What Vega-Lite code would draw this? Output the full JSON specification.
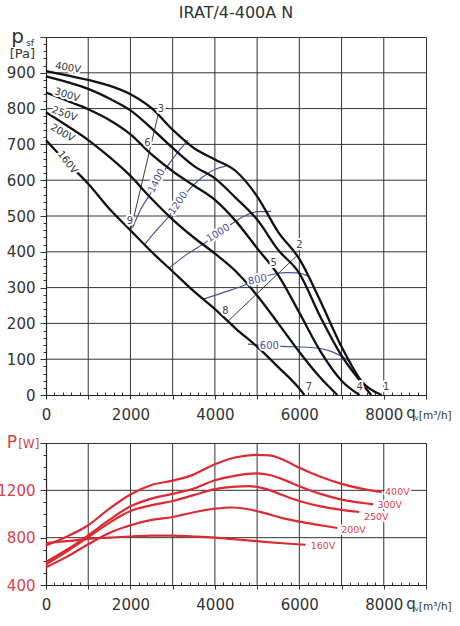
{
  "$schema": "https://vega.github.io/schema/vega-lite/v6.json",
  "background": "white",
  "padding": {"left": -4, "top": 4, "right": 0, "bottom": 0},
  "spacing": 48,
  "bounds": "flush",
  "config": {
    "font": "DejaVu Sans",
    "view": {"stroke": "#333", "strokeWidth": 1},
    "axis": {
      "labelFontSize": 15,
      "labelColor": "#333",
      "labelFlush": false,
      "labelOverlap": false,
      "labelBound": false,
      "grid": false,
      "tickColor": "#333",
      "tickWidth": 1,
      "domainColor": "#222",
      "domainWidth": 1.2,
      "title": null
    },
    "text": {"font": "DejaVu Sans"}
  },
  "datasets": {
    "fan": [
      {"curve": "400V", "q": 0, "p": 905}, {"curve": "400V", "q": 500, "p": 893}, {"curve": "400V", "q": 1000, "p": 880},
      {"curve": "400V", "q": 1500, "p": 864}, {"curve": "400V", "q": 2000, "p": 840}, {"curve": "400V", "q": 2500, "p": 801},
      {"curve": "400V", "q": 3000, "p": 741}, {"curve": "400V", "q": 3500, "p": 690}, {"curve": "400V", "q": 4000, "p": 658},
      {"curve": "400V", "q": 4500, "p": 625}, {"curve": "400V", "q": 5000, "p": 555}, {"curve": "400V", "q": 5500, "p": 455},
      {"curve": "400V", "q": 6000, "p": 380}, {"curve": "400V", "q": 6500, "p": 262}, {"curve": "400V", "q": 7000, "p": 135},
      {"curve": "400V", "q": 7500, "p": 35}, {"curve": "400V", "q": 7950, "p": 0},
      {"curve": "300V", "q": 0, "p": 890}, {"curve": "300V", "q": 500, "p": 874}, {"curve": "300V", "q": 1000, "p": 855},
      {"curve": "300V", "q": 1500, "p": 828}, {"curve": "300V", "q": 2000, "p": 795}, {"curve": "300V", "q": 2500, "p": 745},
      {"curve": "300V", "q": 3000, "p": 690}, {"curve": "300V", "q": 3500, "p": 640}, {"curve": "300V", "q": 4000, "p": 605},
      {"curve": "300V", "q": 4500, "p": 550}, {"curve": "300V", "q": 5000, "p": 490}, {"curve": "300V", "q": 5500, "p": 405},
      {"curve": "300V", "q": 6000, "p": 340}, {"curve": "300V", "q": 6500, "p": 218}, {"curve": "300V", "q": 7000, "p": 110},
      {"curve": "300V", "q": 7500, "p": 30}, {"curve": "300V", "q": 7700, "p": 0},
      {"curve": "250V", "q": 0, "p": 845}, {"curve": "250V", "q": 500, "p": 822}, {"curve": "250V", "q": 1000, "p": 798},
      {"curve": "250V", "q": 1500, "p": 768}, {"curve": "250V", "q": 2000, "p": 728}, {"curve": "250V", "q": 2500, "p": 672},
      {"curve": "250V", "q": 3000, "p": 625}, {"curve": "250V", "q": 3500, "p": 585}, {"curve": "250V", "q": 4000, "p": 545},
      {"curve": "250V", "q": 4500, "p": 485}, {"curve": "250V", "q": 5000, "p": 410}, {"curve": "250V", "q": 5500, "p": 335},
      {"curve": "250V", "q": 6000, "p": 230}, {"curve": "250V", "q": 6500, "p": 122}, {"curve": "250V", "q": 7000, "p": 40},
      {"curve": "250V", "q": 7425, "p": 0},
      {"curve": "200V", "q": 0, "p": 790}, {"curve": "200V", "q": 500, "p": 752}, {"curve": "200V", "q": 1000, "p": 712},
      {"curve": "200V", "q": 1500, "p": 665}, {"curve": "200V", "q": 2000, "p": 612}, {"curve": "200V", "q": 2500, "p": 548},
      {"curve": "200V", "q": 3000, "p": 490}, {"curve": "200V", "q": 3500, "p": 440}, {"curve": "200V", "q": 4000, "p": 395},
      {"curve": "200V", "q": 4500, "p": 345}, {"curve": "200V", "q": 5000, "p": 278}, {"curve": "200V", "q": 5500, "p": 200},
      {"curve": "200V", "q": 6000, "p": 120}, {"curve": "200V", "q": 6500, "p": 48}, {"curve": "200V", "q": 6900, "p": 0},
      {"curve": "160V", "q": 0, "p": 712}, {"curve": "160V", "q": 250, "p": 680}, {"curve": "160V", "q": 500, "p": 650},
      {"curve": "160V", "q": 1000, "p": 590}, {"curve": "160V", "q": 1500, "p": 520}, {"curve": "160V", "q": 2000, "p": 460},
      {"curve": "160V", "q": 2500, "p": 400}, {"curve": "160V", "q": 3000, "p": 345}, {"curve": "160V", "q": 3500, "p": 290},
      {"curve": "160V", "q": 4000, "p": 240}, {"curve": "160V", "q": 4500, "p": 185}, {"curve": "160V", "q": 5000, "p": 135},
      {"curve": "160V", "q": 5500, "p": 78}, {"curve": "160V", "q": 6000, "p": 18}, {"curve": "160V", "q": 6120, "p": 0}
    ],
    "sys": [
      {"line": "9-3", "q": 2010, "p": 462}, {"line": "9-3", "q": 2660, "p": 785},
      {"line": "8-2", "q": 4300, "p": 205}, {"line": "8-2", "q": 5950, "p": 390}
    ],
    "iso": [
      {"w": "1400", "q": 2050, "p": 467}, {"w": "1400", "q": 2250, "p": 520}, {"w": "1400", "q": 2490, "p": 565},
      {"w": "1400", "q": 2880, "p": 640}, {"w": "1400", "q": 3360, "p": 712},
      {"w": "1200", "q": 2330, "p": 420}, {"w": "1200", "q": 2650, "p": 465}, {"w": "1200", "q": 2920, "p": 500},
      {"w": "1200", "q": 3120, "p": 535}, {"w": "1200", "q": 3400, "p": 575}, {"w": "1200", "q": 3700, "p": 608},
      {"w": "1200", "q": 4000, "p": 630}, {"w": "1200", "q": 4270, "p": 640},
      {"w": "1000", "q": 2920, "p": 355}, {"w": "1000", "q": 3300, "p": 390}, {"w": "1000", "q": 3830, "p": 430},
      {"w": "1000", "q": 4300, "p": 470}, {"w": "1000", "q": 4700, "p": 500}, {"w": "1000", "q": 5000, "p": 512},
      {"w": "1000", "q": 5330, "p": 513},
      {"w": "800", "q": 3710, "p": 267}, {"w": "800", "q": 4300, "p": 290}, {"w": "800", "q": 4780, "p": 310},
      {"w": "800", "q": 5330, "p": 336}, {"w": "800", "q": 5700, "p": 342}, {"w": "800", "q": 5960, "p": 341},
      {"w": "800", "q": 6240, "p": 330},
      {"w": "600", "q": 4780, "p": 142}, {"w": "600", "q": 5600, "p": 136}, {"w": "600", "q": 6350, "p": 132},
      {"w": "600", "q": 6750, "p": 122}, {"w": "600", "q": 7000, "p": 108}, {"w": "600", "q": 7230, "p": 90}
    ],
    "fanlab": [
      {"t": "400V", "q": 520, "p": 914}, {"t": "300V", "q": 500, "p": 838}, {"t": "250V", "q": 440, "p": 785},
      {"t": "200V", "q": 390, "p": 732}, {"t": "160V", "q": 510, "p": 650}
    ],
    "isolab": [
      {"t": "1400", "q": 2620, "p": 598}, {"t": "1200", "q": 3130, "p": 536}, {"t": "1000", "q": 4080, "p": 452},
      {"t": "800", "q": 5010, "p": 322}, {"t": "600", "q": 5290, "p": 138}
    ],
    "ptlab": [
      {"t": "1", "q": 8060, "p": 22}, {"t": "2", "q": 6000, "p": 418}, {"t": "3", "q": 2720, "p": 800},
      {"t": "4", "q": 7430, "p": 22}, {"t": "5", "q": 5390, "p": 368}, {"t": "6", "q": 2400, "p": 705},
      {"t": "7", "q": 6230, "p": 22}, {"t": "8", "q": 4250, "p": 236}, {"t": "9", "q": 1990, "p": 486}
    ],
    "gridq": [
      {"q": 1000}, {"q": 2000}, {"q": 3000}, {"q": 4000}, {"q": 5000}, {"q": 6000}, {"q": 7000}, {"q": 8000}
    ],
    "gridp": [
      {"p": 100}, {"p": 200}, {"p": 300}, {"p": 400}, {"p": 500}, {"p": 600}, {"p": 700}, {"p": 800}, {"p": 900}
    ],
    "gridw": [
      {"p": 800}, {"p": 1200}
    ],
    "power": [
      {"curve": "400V", "q": 0, "p": 735}, {"curve": "400V", "q": 500, "p": 810}, {"curve": "400V", "q": 1000, "p": 905},
      {"curve": "400V", "q": 1500, "p": 1045}, {"curve": "400V", "q": 2000, "p": 1165}, {"curve": "400V", "q": 2500, "p": 1245},
      {"curve": "400V", "q": 3000, "p": 1282}, {"curve": "400V", "q": 3400, "p": 1320}, {"curve": "400V", "q": 4000, "p": 1420},
      {"curve": "400V", "q": 4500, "p": 1480}, {"curve": "400V", "q": 5000, "p": 1500}, {"curve": "400V", "q": 5300, "p": 1495},
      {"curve": "400V", "q": 5700, "p": 1445}, {"curve": "400V", "q": 6000, "p": 1390}, {"curve": "400V", "q": 6500, "p": 1315},
      {"curve": "400V", "q": 7000, "p": 1255}, {"curve": "400V", "q": 7500, "p": 1212}, {"curve": "400V", "q": 7950, "p": 1185},
      {"curve": "300V", "q": 0, "p": 594}, {"curve": "300V", "q": 500, "p": 700}, {"curve": "300V", "q": 1000, "p": 820},
      {"curve": "300V", "q": 1500, "p": 950}, {"curve": "300V", "q": 2000, "p": 1065}, {"curve": "300V", "q": 2500, "p": 1130},
      {"curve": "300V", "q": 3000, "p": 1170}, {"curve": "300V", "q": 3500, "p": 1215}, {"curve": "300V", "q": 4000, "p": 1285},
      {"curve": "300V", "q": 4500, "p": 1325}, {"curve": "300V", "q": 5000, "p": 1343}, {"curve": "300V", "q": 5300, "p": 1330},
      {"curve": "300V", "q": 5700, "p": 1280}, {"curve": "300V", "q": 6000, "p": 1235}, {"curve": "300V", "q": 6500, "p": 1170},
      {"curve": "300V", "q": 7000, "p": 1122}, {"curve": "300V", "q": 7500, "p": 1093}, {"curve": "300V", "q": 7750, "p": 1082},
      {"curve": "250V", "q": 0, "p": 575}, {"curve": "250V", "q": 500, "p": 685}, {"curve": "250V", "q": 1000, "p": 805},
      {"curve": "250V", "q": 1500, "p": 925}, {"curve": "250V", "q": 2000, "p": 1025}, {"curve": "250V", "q": 2500, "p": 1075},
      {"curve": "250V", "q": 3000, "p": 1110}, {"curve": "250V", "q": 3500, "p": 1160}, {"curve": "250V", "q": 4000, "p": 1210},
      {"curve": "250V", "q": 4500, "p": 1232}, {"curve": "250V", "q": 4800, "p": 1236}, {"curve": "250V", "q": 5200, "p": 1212},
      {"curve": "250V", "q": 5600, "p": 1160}, {"curve": "250V", "q": 6000, "p": 1110}, {"curve": "250V", "q": 6500, "p": 1065},
      {"curve": "250V", "q": 7000, "p": 1035}, {"curve": "250V", "q": 7420, "p": 1017},
      {"curve": "200V", "q": 0, "p": 550}, {"curve": "200V", "q": 500, "p": 640}, {"curve": "200V", "q": 1000, "p": 745},
      {"curve": "200V", "q": 1500, "p": 840}, {"curve": "200V", "q": 2000, "p": 905}, {"curve": "200V", "q": 2500, "p": 950},
      {"curve": "200V", "q": 3000, "p": 975}, {"curve": "200V", "q": 3500, "p": 1015}, {"curve": "200V", "q": 4000, "p": 1045},
      {"curve": "200V", "q": 4400, "p": 1055}, {"curve": "200V", "q": 4800, "p": 1040}, {"curve": "200V", "q": 5200, "p": 1005},
      {"curve": "200V", "q": 5600, "p": 965}, {"curve": "200V", "q": 6000, "p": 935}, {"curve": "200V", "q": 6500, "p": 905},
      {"curve": "200V", "q": 6900, "p": 882},
      {"curve": "160V", "q": 0, "p": 755}, {"curve": "160V", "q": 500, "p": 770}, {"curve": "160V", "q": 1000, "p": 790},
      {"curve": "160V", "q": 1500, "p": 800}, {"curve": "160V", "q": 2000, "p": 810}, {"curve": "160V", "q": 2500, "p": 818},
      {"curve": "160V", "q": 3000, "p": 818}, {"curve": "160V", "q": 3500, "p": 810}, {"curve": "160V", "q": 4000, "p": 800},
      {"curve": "160V", "q": 4500, "p": 785}, {"curve": "160V", "q": 5000, "p": 770}, {"curve": "160V", "q": 5500, "p": 755},
      {"curve": "160V", "q": 6150, "p": 740}
    ],
    "powlab": [
      {"t": "400V", "q": 8030, "p": 1186}, {"t": "300V", "q": 7850, "p": 1076}, {"t": "250V", "q": 7530, "p": 975},
      {"t": "200V", "q": 6990, "p": 868}, {"t": "160V", "q": 6270, "p": 727}
    ]
  },
  "vconcat": [
    {
      "width": 380,
      "height": 358,
      "title": {"text": "IRAT/4-400A N", "frame": "group", "anchor": "middle", "fontSize": 16, "fontWeight": "normal", "color": "#333", "offset": 6},
      "resolve": {"axis": {"x": "independent", "y": "independent"}},
      "layer": [
        {
          "data": {"name": "gridq"},
          "mark": {"type": "rule", "color": "#333", "strokeWidth": 1},
          "encoding": {
            "x": {"field": "q", "type": "quantitative", "scale": {"domain": [0, 9000], "nice": false, "zero": false}, "axis": null}
          }
        },
        {
          "data": {"name": "gridp"},
          "mark": {"type": "rule", "color": "#333", "strokeWidth": 1},
          "encoding": {
            "y": {"field": "p", "type": "quantitative", "scale": {"domain": [0, 1000], "nice": false, "zero": false}, "axis": null}
          }
        },
        {
          "data": {"name": "iso"},
          "mark": {"type": "line", "color": "#4b52a0", "strokeWidth": 1.2, "interpolate": "monotone"},
          "encoding": {
            "detail": {"field": "w"},
            "x": {
              "field": "q", "type": "quantitative",
              "scale": {"domain": [0, 9000], "nice": false, "zero": false},
              "axis": {
                "orient": "bottom", "offset": -3, "tickSize": 3, "labels": false, "domain": false, "grid": false,
                "values": [200,400,600,800,1200,1400,1600,1800,2200,2400,2600,2800,3200,3400,3600,3800,4200,4400,4600,4800,5200,5400,5600,5800,6200,6400,6600,6800,7200,7400,7600,7800,8200,8400,8600,8800]
              }
            },
            "y": {
              "field": "p", "type": "quantitative",
              "scale": {"domain": [0, 1000], "nice": false, "zero": false},
              "axis": {
                "orient": "left", "tickSize": 3, "labels": false, "domain": false, "grid": false,
                "values": [20,40,60,80,120,140,160,180,220,240,260,280,320,340,360,380,420,440,460,480,520,540,560,580,620,640,660,680,720,740,760,780,820,840,860,880,920,940,960,980]
              }
            }
          }
        },
        {
          "encoding": {
            "x": {
              "field": "q", "type": "quantitative",
              "scale": {"domain": [0, 9000], "nice": false, "zero": false},
              "axis": {
                "orient": "bottom",
                "values": [0,1000,2000,3000,4000,5000,6000,7000,8000,9000],
                "format": "d",
                "labelExpr": "datum.value % 2000 === 0 ? datum.label : ''",
                "labelPadding": 8,
                "tickSize": 4
              }
            },
            "y": {
              "field": "p", "type": "quantitative",
              "scale": {"domain": [0, 1000], "nice": false, "zero": false},
              "axis": {
                "orient": "left",
                "values": [0,100,200,300,400,500,600,700,800,900,1000],
                "format": "d",
                "labelExpr": "datum.value < 1000 ? datum.label : ''",
                "labelPadding": 5,
                "labelBaseline": "middle",
                "tickSize": 6
              }
            }
          },
          "layer": [
            {
              "data": {"name": "sys"},
              "mark": {"type": "line", "color": "#222", "strokeWidth": 0.9},
              "encoding": {"detail": {"field": "line"}}
            },
            {
              "data": {"name": "fan"},
              "mark": {"type": "line", "color": "#111", "strokeWidth": 2.3, "interpolate": "monotone"},
              "encoding": {"detail": {"field": "curve"}}
            },
            {
              "data": {"name": "isolab"},
              "mark": {"type": "text", "fontSize": 10, "fill": "white", "stroke": "white", "strokeWidth": 4, "strokeJoin": "round",
                       "angle": {"expr": "[-63,-55,-32,-12,0][indexof(['1400','1200','1000','800','600'], datum.t)]"}},
              "encoding": {"text": {"field": "t"}}
            },
            {
              "data": {"name": "isolab"},
              "mark": {"type": "text", "fontSize": 10, "color": "#4b52a0",
                       "angle": {"expr": "[-63,-55,-32,-12,0][indexof(['1400','1200','1000','800','600'], datum.t)]"}},
              "encoding": {"text": {"field": "t"}}
            },
            {
              "data": {"name": "fanlab"},
              "mark": {"type": "text", "fontSize": 10, "fill": "white", "stroke": "white", "strokeWidth": 4, "strokeJoin": "round",
                       "angle": {"expr": "[10,17,20,30,52][indexof(['400V','300V','250V','200V','160V'], datum.t)]"}},
              "encoding": {"text": {"field": "t"}}
            },
            {
              "data": {"name": "fanlab"},
              "mark": {"type": "text", "fontSize": 10, "color": "#333",
                       "angle": {"expr": "[10,17,20,30,52][indexof(['400V','300V','250V','200V','160V'], datum.t)]"}},
              "encoding": {"text": {"field": "t"}}
            },
            {
              "data": {"name": "ptlab"},
              "mark": {"type": "text", "fontSize": 10, "fill": "white", "stroke": "white", "strokeWidth": 4, "strokeJoin": "round"},
              "encoding": {"text": {"field": "t"}}
            },
            {
              "data": {"name": "ptlab"},
              "mark": {"type": "text", "fontSize": 10, "color": "#444"},
              "encoding": {"text": {"field": "t"}}
            },
            {
              "data": {"values": [{"t": "p", "q": -675, "p": 982}]},
              "mark": {"type": "text", "fontSize": 20, "color": "#333", "baseline": "alphabetic", "align": "center"},
              "encoding": {"text": {"field": "t"}}
            },
            {
              "data": {"values": [{"t": "sf", "q": -470, "p": 975}]},
              "mark": {"type": "text", "fontSize": 9, "color": "#333", "baseline": "alphabetic", "align": "left"},
              "encoding": {"text": {"field": "t"}}
            },
            {
              "data": {"values": [{"t": "[Pa]", "q": -560, "p": 940}]},
              "mark": {"type": "text", "fontSize": 13, "color": "#333", "baseline": "alphabetic", "align": "center"},
              "encoding": {"text": {"field": "t"}}
            },
            {
              "data": {"values": [{"t": "q", "q": 8530, "p": -64}]},
              "mark": {"type": "text", "fontSize": 15, "color": "#333", "baseline": "alphabetic", "align": "left"},
              "encoding": {"text": {"field": "t"}}
            },
            {
              "data": {"values": [{"t": "v", "q": 8730, "p": -70}]},
              "mark": {"type": "text", "fontSize": 7, "color": "#333", "baseline": "alphabetic", "align": "left"},
              "encoding": {"text": {"field": "t"}}
            },
            {
              "data": {"values": [{"t": "[m³/h]", "q": 8830, "p": -66}]},
              "mark": {"type": "text", "fontSize": 10.5, "color": "#333", "baseline": "alphabetic", "align": "left"},
              "encoding": {"text": {"field": "t"}}
            }
          ]
        }
      ]
    },
    {
      "width": 380,
      "height": 142,
      "resolve": {"axis": {"x": "independent", "y": "independent"}},
      "layer": [
        {
          "data": {"name": "gridq"},
          "mark": {"type": "rule", "color": "#333", "strokeWidth": 1},
          "encoding": {
            "x": {"field": "q", "type": "quantitative", "scale": {"domain": [0, 9000], "nice": false, "zero": false}, "axis": null}
          }
        },
        {
          "data": {"name": "gridw"},
          "mark": {"type": "rule", "color": "#333", "strokeWidth": 1},
          "encoding": {
            "y": {"field": "p", "type": "quantitative", "scale": {"domain": [400, 1600], "nice": false, "zero": false}, "axis": null}
          }
        },
        {
          "data": {"name": "power"},
          "mark": {"type": "line", "color": "#dc2a33", "strokeWidth": 2.2, "interpolate": "monotone"},
          "encoding": {
            "detail": {"field": "curve"},
            "x": {
              "field": "q", "type": "quantitative",
              "scale": {"domain": [0, 9000], "nice": false, "zero": false},
              "axis": {
                "orient": "bottom", "offset": -3, "tickSize": 3, "labels": false, "domain": false, "grid": false,
                "values": [200,400,600,800,1200,1400,1600,1800,2200,2400,2600,2800,3200,3400,3600,3800,4200,4400,4600,4800,5200,5400,5600,5800,6200,6400,6600,6800,7200,7400,7600,7800,8200,8400,8600,8800]
              }
            },
            "y": {
              "field": "p", "type": "quantitative",
              "scale": {"domain": [400, 1600], "nice": false, "zero": false},
              "axis": {
                "orient": "left", "tickSize": 3, "labels": false, "domain": false, "grid": false,
                "values": [500,600,700,900,1000,1100,1300,1400,1500]
              }
            }
          }
        },
        {
          "encoding": {
            "x": {
              "field": "q", "type": "quantitative",
              "scale": {"domain": [0, 9000], "nice": false, "zero": false},
              "axis": {
                "orient": "bottom",
                "values": [0,1000,2000,3000,4000,5000,6000,7000,8000,9000],
                "format": "d",
                "labelExpr": "datum.value % 2000 === 0 ? datum.label : ''",
                "labelPadding": 8,
                "tickSize": 4
              }
            },
            "y": {
              "field": "p", "type": "quantitative",
              "scale": {"domain": [400, 1600], "nice": false, "zero": false},
              "axis": {
                "orient": "left",
                "values": [400,800,1200,1600],
                "format": "d",
                "labelExpr": "datum.value < 1600 ? datum.label : ''",
                "labelPadding": 5,
                "labelBaseline": "middle",
                "labelColor": "#d9414b",
                "tickSize": 6
              }
            }
          },
          "layer": [
            {
              "data": {"name": "powlab"},
              "mark": {"type": "text", "fontSize": 9.5, "align": "left", "fill": "white", "stroke": "white", "strokeWidth": 4, "strokeJoin": "round"},
              "encoding": {"text": {"field": "t"}}
            },
            {
              "data": {"name": "powlab"},
              "mark": {"type": "text", "fontSize": 9.5, "align": "left", "color": "#d9414b"},
              "encoding": {"text": {"field": "t"}}
            },
            {
              "data": {"values": [{"t": "P", "q": -806, "p": 1555}]},
              "mark": {"type": "text", "fontSize": 17, "color": "#d9414b", "baseline": "alphabetic", "align": "center"},
              "encoding": {"text": {"field": "t"}}
            },
            {
              "data": {"values": [{"t": "[W]", "q": -660, "p": 1555}]},
              "mark": {"type": "text", "fontSize": 12, "color": "#d9414b", "baseline": "alphabetic", "align": "left"},
              "encoding": {"text": {"field": "t"}}
            },
            {
              "data": {"values": [{"t": "q", "q": 8530, "p": 196}]},
              "mark": {"type": "text", "fontSize": 15, "color": "#333", "baseline": "alphabetic", "align": "left"},
              "encoding": {"text": {"field": "t"}}
            },
            {
              "data": {"values": [{"t": "v", "q": 8730, "p": 180}]},
              "mark": {"type": "text", "fontSize": 7, "color": "#333", "baseline": "alphabetic", "align": "left"},
              "encoding": {"text": {"field": "t"}}
            },
            {
              "data": {"values": [{"t": "[m³/h]", "q": 8830, "p": 190}]},
              "mark": {"type": "text", "fontSize": 10.5, "color": "#333", "baseline": "alphabetic", "align": "left"},
              "encoding": {"text": {"field": "t"}}
            }
          ]
        }
      ]
    }
  ]
}
